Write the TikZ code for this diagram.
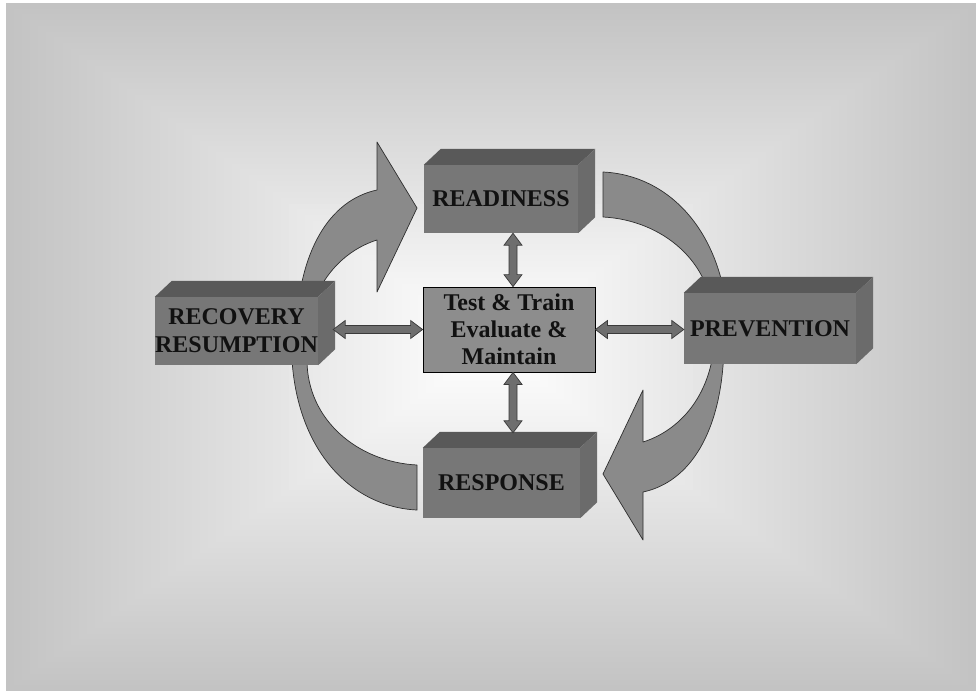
\documentclass[tikz,border=0pt]{standalone}
\usepackage{fontspec}
\setmainfont{Liberation Serif}
\usetikzlibrary{calc}

\definecolor{bgedge}{HTML}{C3C3C3}
\definecolor{frontgray}{HTML}{777777}
\definecolor{topgray}{HTML}{595959}
\definecolor{sidegray}{HTML}{6B6B6B}
\definecolor{bandgray}{HTML}{8A8A8A}
\definecolor{bandline}{HTML}{2E2E2E}
\definecolor{hubgray}{HTML}{8D8D8D}
\definecolor{dblgray}{HTML}{6E6E6E}
\definecolor{dblline}{HTML}{3A3A3A}
\definecolor{inkgray}{HTML}{111111}

% thick three-dimensional block: front face is the node, top and side faces added
\newcommand\blockfaces[1]{%
  \fill[topgray] (#1.north west) -- ++(17,-16) -- ($(#1.north east)+(17,-16)$) -- (#1.north east) -- cycle;
  \fill[sidegray] (#1.north east) -- ++(17,-16) -- ($(#1.south east)+(17,-16)$) -- (#1.south east) -- cycle;
}
% fat horizontal double arrow, #1 left tip, #2 right tip
\newcommand\hdbl[2]{%
  \filldraw[dbl] (#1) -- ++(12,-9) -- ++(0,5) -- ($(#2)+(-12,-4)$) -- ++(0,-5) -- (#2)
    -- ++(-12,9) -- ++(0,-5) -- ($(#1)+(12,4)$) -- ++(0,5) -- cycle;
}
% fat vertical double arrow, #1 upper tip, #2 lower tip
\newcommand\vdbl[2]{%
  \filldraw[dbl] (#1) -- ++(9,12) -- ++(-5,0) -- ($(#2)+(4,-12)$) -- ++(5,0) -- (#2)
    -- ++(-9,-12) -- ++(5,0) -- ($(#1)+(-4,12)$) -- ++(-5,0) -- cycle;
}
% curved arrow rising from the recovery block to the readiness block
\newcommand\risingarrow[1][]{%
  \filldraw[band,#1] (296,335) .. controls (298,250) and (330,200) .. (377,190)
    -- (377,142) -- (417,208) -- (377,292) -- (377,240)
    .. controls (345,250) and (312,280) .. (306,335) -- cycle;
}
% curved band from the readiness block down into the prevention block
\newcommand\sweepband[1][]{%
  \filldraw[band,#1] (603,172) .. controls (668,175) and (722,230) .. (728,322)
    -- (713,322) .. controls (713,262) and (662,220) .. (603,217) -- cycle;
}

\begin{document}
\begin{tikzpicture}[x=1pt,y=-1pt,
  band/.style={fill=bandgray, draw=bandline, line width=0.7pt, line join=round},
  dbl/.style={fill=dblgray, draw=dblline, line width=0.7pt, line join=miter},
  label/.style={text=inkgray, font=\fontsize{24}{28}\selectfont\bfseries, align=center, inner sep=0pt},
  block/.style={label, fill=frontgray},
  hub/.style={label, fill=hubgray, draw=black, line width=0.8pt, font=\fontsize{24}{27}\selectfont\bfseries}]

\useasboundingbox (0,0) rectangle (976,691);
\fill[white] (0,0) rectangle (976,691);

% rectangular gradient, grey edges fading to a white centre
\foreach \i in {0,...,59}{
  \pgfmathsetmacro\p{100*\i/59}
  \pgfmathsetmacro\dx{\i/60*485}
  \pgfmathsetmacro\dy{\i/60*344}
  \fill[white!\p!bgedge] (6+\dx, 3+\dy) rectangle (976-\dx, 691-\dy);
}

% cycle of curved arrows
\sweepband
\sweepband[rotate around={180:(510,341)}]
\risingarrow
\risingarrow[rotate around={180:(510,341)}]

% the four phase blocks
\node[block, minimum width=154pt, minimum height=68pt] (ready) at (501,199) {READINESS};
\blockfaces{ready}
\node[block, minimum width=163pt, minimum height=68pt] (recovery) at (236.5,331) {RECOVERY\\RESUMPTION};
\blockfaces{recovery}
\node[block, minimum width=172pt, minimum height=71pt] (prevention) at (770,328.5) {PREVENTION};
\blockfaces{prevention}
\node[block, minimum width=157pt, minimum height=70pt] (response) at (501.5,483) {RESPONSE};
\blockfaces{response}

% central hub
\node[hub, minimum width=172pt, minimum height=85pt] (hubbox) at (509,329.5) {Test \& Train\\Evaluate \&\\Maintain};

% links between the hub and each block
\hdbl{$(recovery.east |- hubbox.west)+(15,0)$}{hubbox.west}
\hdbl{hubbox.east}{hubbox.east -| prevention.west}
\vdbl{$(ready.south)+(12,0)$}{$(ready.south |- hubbox.north)+(12,0)$}
\vdbl{$(hubbox.south)+(4,0)$}{$(hubbox.south |- response.north)+(4,-15)$}
\end{tikzpicture}
\end{document}
